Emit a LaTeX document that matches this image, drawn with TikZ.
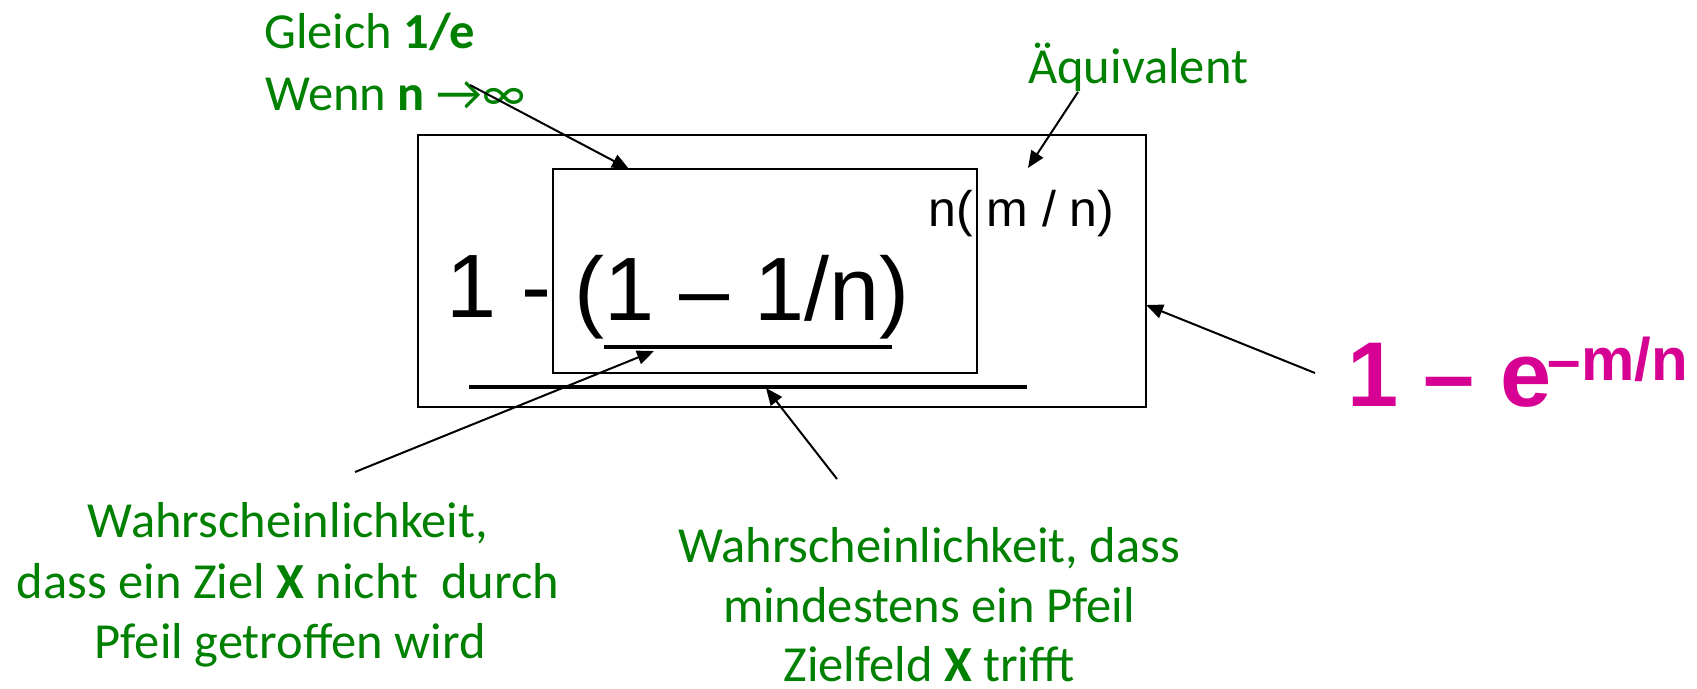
\documentclass[tikz,border=0pt]{standalone}
\usepackage{fontspec}
\setmainfont{Carlito}
\newfontfamily\arialf{Liberation Sans}
\usetikzlibrary{arrows.meta}
\definecolor{tgreen}{RGB}{0,128,0}
\definecolor{tmag}{RGB}{214,0,147}
\begin{document}
\begin{tikzpicture}[x=1pt,y=-1pt,
  box/.style={draw=black, line width=2pt, inner sep=0pt},
  bar/.style={line width=3.5pt},
  ptr/.style={line width=2pt, -{Triangle[length=17pt,width=14pt]}},
  gtext/.style={text=tgreen, inner sep=0pt, font=\fontsize{50.5}{61}\selectfont},
  ftext/.style={text=black, inner sep=0pt}]
\useasboundingbox (0,0) rectangle (1697,688);

% boxes
\node[box, minimum width=728pt, minimum height=272pt] (outer) at (782,271) {};
\node[box, minimum width=424pt, minimum height=204pt] (inner) at (765,271) {};

% formula
\node[ftext, anchor=base west, font=\arialf\fontsize{90}{90}\selectfont] (oneminus) at (446,317) {1 -};
\node[ftext, anchor=base west, font=\arialf\fontsize{90}{90}\selectfont] (bracket) at (574,320) {(1 – 1/n)};
\node[ftext, anchor=base west, font=\arialf\fontsize{50}{50}\selectfont] (expo) at (928,226) {n( m / n)};
\node[inner sep=0pt, anchor=base west, text=tmag, font=\arialf\bfseries\fontsize{92}{92}\selectfont] (result) at (1347,406) {1 – e\kern-4pt\raisebox{26pt}{\fontsize{60}{60}\selectfont –m/n}};

% bars
\coordinate (u1) at (604,347); \coordinate (u2) at (892,347);
\coordinate (v1) at (469,387); \coordinate (v2) at (1027,387);
\draw[bar] (u1) -- (u2);
\draw[bar] (v1) -- (v2);

% green labels
\node[gtext, anchor=base west] (gleich) at (264,48) {Gleich \textbf{1/e}};
\node[gtext, anchor=base west] (wenn) at (265,110) {Wenn \textbf{n} →∞};
\node[gtext, anchor=base west] (aequiv) at (1028,83) {Äquivalent};

\node[gtext, anchor=base] (l1) at (288,537) {Wahrscheinlichkeit,};
\node[gtext, anchor=base] (l2) at (288,598) {dass ein Ziel \textbf{X} nicht\ \ durch};
\node[gtext, anchor=base] (l3) at (290,658) {Pfeil getroffen wird};

\node[gtext, anchor=base] (r1) at (929,562) {Wahrscheinlichkeit, dass};
\node[gtext, anchor=base] (r2) at (929,622) {mindestens ein Pfeil};
\node[gtext, anchor=base, text depth=0pt] (r3) at (929,681) {Zielfeld \textbf{X} trifft};

% arrows
\coordinate (gStart) at (470,85);   \coordinate (gTip) at (629,169);
\coordinate (aStart) at (1078,92);  \coordinate (aTip) at (1028,168);
\coordinate (rStart) at (1315,373); \coordinate (rTip) at (1146,305);
\coordinate (lStart) at (355,472);  \coordinate (lTip) at (654,351);
\coordinate (cStart) at (837,479);  \coordinate (cTip) at (766,388);
\draw[ptr] (gStart) -- (gTip);
\draw[ptr] (aStart) -- (aTip);
\draw[ptr] (rStart) -- (rTip);
\draw[ptr] (lStart) -- (lTip);
\draw[ptr] (cStart) -- (cTip);
\end{tikzpicture}
\end{document}
